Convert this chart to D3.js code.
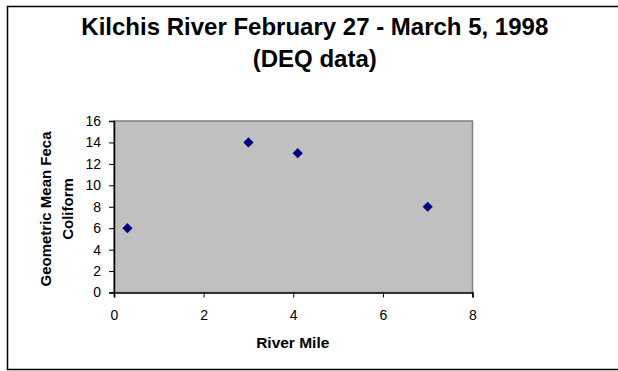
<!DOCTYPE html>
<html>
<head>
<meta charset="utf-8">
<script src="https://cdn.jsdelivr.net/npm/d3@7"></script>
<style>
  html, body { margin: 0; padding: 0; background: #fff; }
  svg { display: block; }
</style>
</head>
<body>
<svg id="chart" width="618" height="371"></svg>
<script>
// Sampling sites along the Kilchis River and their geometric mean fecal coliform
const riverMile = [0.3, 3, 4.1, 7];
const fecalColiform = [6, 14, 13, 8];
const xTicks = [0, 2, 4, 6, 8];
const yTicks = [0, 2, 4, 6, 8, 10, 12, 14, 16];
const titleLines = ["Kilchis River February 27 - March 5, 1998", "(DEQ data)"];
const yLabelLines = ["Geometric Mean Feca", "Coliform"];
const xLabel = "River Mile";

const svg = d3.select("#chart");
const font = "Arial, 'Liberation Sans', sans-serif";

// outer chart frame
svg.append("rect")
  .attr("x", 7.5).attr("y", 6.5)
  .attr("width", 620).attr("height", 363)
  .attr("fill", "#fff").attr("stroke", "#000").attr("stroke-width", 1.5);

const plot = { left: 114, right: 472.5, top: 121, bottom: 292.5 };

const x = d3.scaleLinear().domain([0, 8]).range([plot.left, plot.right]);
const y = d3.scaleLinear().domain([0, 16]).range([plot.bottom, plot.top]);

// plot area
svg.append("rect")
  .attr("x", plot.left).attr("y", plot.top)
  .attr("width", plot.right - plot.left).attr("height", plot.bottom - plot.top)
  .attr("fill", "#c0c0c0").attr("stroke", "#808080").attr("stroke-width", 1.5);

// title
const titleX = 314.8;
svg.append("text")
  .attr("text-anchor", "middle")
  .attr("font-family", font).attr("font-weight", "bold").attr("font-size", 24)
  .selectAll("tspan").data(titleLines).join("tspan")
  .attr("x", titleX).attr("y", (d, i) => i === 0 ? 35 : 66.5)
  .text(d => d);

// axes
const xAxis = svg.append("g")
  .attr("transform", `translate(0,${plot.bottom})`)
  .call(d3.axisBottom(x).tickValues(xTicks).tickSize(5).tickPadding(12.5).tickFormat(d3.format("d")));
const yAxis = svg.append("g")
  .attr("transform", `translate(${plot.left},0)`)
  .call(d3.axisLeft(y).tickValues(yTicks).tickSize(5).tickPadding(8).tickFormat(d3.format("d")));

[xAxis, yAxis].forEach(g => {
  g.attr("font-size", null).attr("font-family", null);
  g.select(".domain").attr("stroke", "#000").attr("stroke-width", 1.5);
  g.selectAll(".tick line").attr("stroke", "#000");
  g.selectAll(".tick text")
    .attr("font-family", font).attr("font-size", 14).attr("fill", "#000");
});
xAxis.select(".domain").attr("stroke", "#333").attr("stroke-width", 2);

// axis titles
svg.append("text")
  .attr("x", x(4) - 0.5).attr("y", 347.7)
  .attr("text-anchor", "middle")
  .attr("font-family", font).attr("font-weight", "bold").attr("font-size", 15.5)
  .text(xLabel);

svg.append("text")
  .attr("transform", "translate(0,209) rotate(-90)")
  .attr("text-anchor", "middle")
  .attr("font-family", font).attr("font-weight", "bold").attr("font-size", 15)
  .selectAll("tspan").data(yLabelLines).join("tspan")
  .attr("x", 0).attr("y", (d, i) => i === 0 ? 50.5 : 73)
  .text(d => d);

// diamond markers
const diamond = d3.symbol().type(d3.symbolDiamond2).size(66);
svg.append("g").selectAll("path")
  .data(riverMile.map((m, i) => [m, fecalColiform[i]]))
  .join("path")
  .attr("d", diamond)
  .attr("transform", d => `translate(${x(d[0])},${y(d[1])})`)
  .attr("fill", "#000080");
</script>
</body>
</html>
